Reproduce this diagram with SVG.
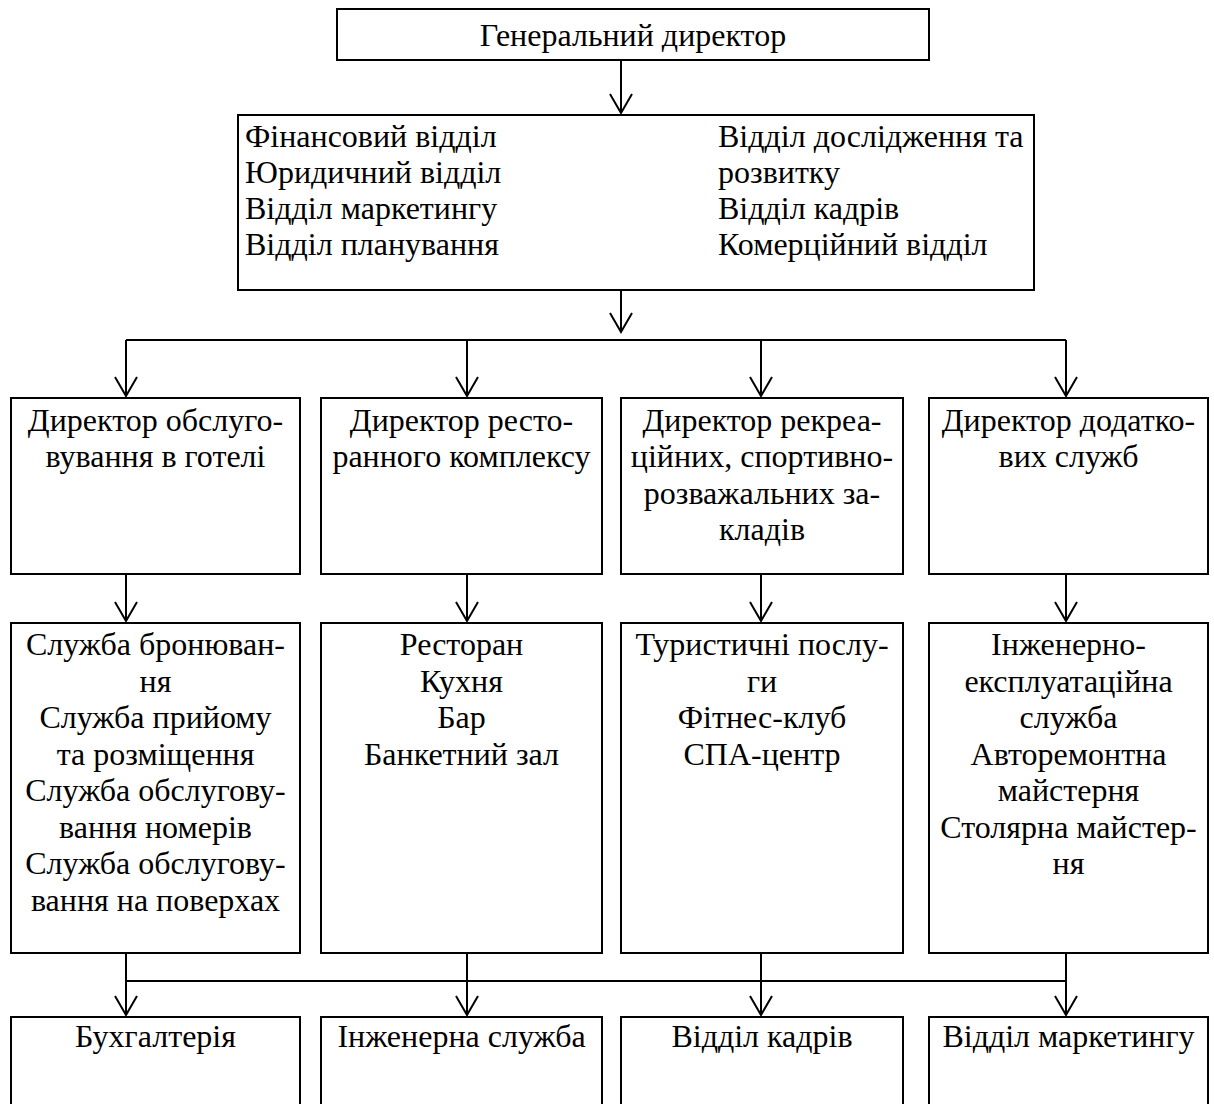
<svg xmlns="http://www.w3.org/2000/svg" width="1214" height="1104" viewBox="0 0 1214 1104">
<style>
.box{fill:#fff;stroke:#000;stroke-width:2}
.t{font-family:"Liberation Serif","Times New Roman",serif;font-size:32px;fill:#000}
.c{text-anchor:middle}
.ln{fill:none;stroke:#000;stroke-width:2}
</style>
<defs>
<marker id="ah" markerUnits="userSpaceOnUse" markerWidth="30" markerHeight="30" refX="0" refY="0" orient="auto" viewBox="-22 -15 30 30" overflow="visible">
<path d="M-19,-11 L0,0 L-19,11" fill="none" stroke="#000" stroke-width="2"/>
</marker>
</defs>
<rect width="1214" height="1104" fill="#fff"/>
<g id="connectors">
<path class="ln" d="M621,60 V113" marker-end="url(#ah)"/>
<path class="ln" d="M621,290 V332" marker-end="url(#ah)"/>
<path class="ln" d="M126,340 H1066"/>
<path class="ln" d="M126,340 V396" marker-end="url(#ah)"/>
<path class="ln" d="M467,340 V396" marker-end="url(#ah)"/>
<path class="ln" d="M761,340 V396" marker-end="url(#ah)"/>
<path class="ln" d="M1066,340 V396" marker-end="url(#ah)"/>
<path class="ln" d="M126,574 V621" marker-end="url(#ah)"/>
<path class="ln" d="M467,574 V621" marker-end="url(#ah)"/>
<path class="ln" d="M761,574 V621" marker-end="url(#ah)"/>
<path class="ln" d="M1066,574 V621" marker-end="url(#ah)"/>
<path class="ln" d="M126,981 H1066"/>
<path class="ln" d="M126,953 V1015" marker-end="url(#ah)"/>
<path class="ln" d="M467,953 V1015" marker-end="url(#ah)"/>
<path class="ln" d="M761,953 V1015" marker-end="url(#ah)"/>
<path class="ln" d="M1066,953 V1015" marker-end="url(#ah)"/>
</g>
<g id="gen">
<rect class="box" x="337" y="9" width="592" height="51"/>
<text class="t c" x="633" y="46">Генеральний директор</text>
</g>
<g id="depts">
<rect class="box" x="238" y="115" width="796" height="175"/>
<text class="t" x="245" y="147">Фінансовий відділ</text>
<text class="t" x="245" y="183">Юридичний відділ</text>
<text class="t" x="245" y="219">Відділ маркетингу</text>
<text class="t" x="245" y="255">Відділ планування</text>
<text class="t" x="718" y="147">Відділ дослідження та</text>
<text class="t" x="718" y="183">розвитку</text>
<text class="t" x="718" y="219">Відділ кадрів</text>
<text class="t" x="718" y="255">Комерційний відділ</text>
</g>
<g id="dir1">
<rect class="box" x="11" y="398" width="289" height="176"/>
<text class="t c" x="155.5" y="431">Директор обслуго-</text>
<text class="t c" x="155.5" y="467">вування в готелі</text>
</g>
<g id="dir2">
<rect class="box" x="321" y="398" width="281" height="176"/>
<text class="t c" x="461.5" y="431">Директор ресто-</text>
<text class="t c" x="461.5" y="467">ранного комплексу</text>
</g>
<g id="dir3">
<rect class="box" x="621" y="398" width="282" height="176"/>
<text class="t c" x="762" y="431">Директор рекреа-</text>
<text class="t c" x="762" y="467">ційних, спортивно-</text>
<text class="t c" x="762" y="504">розважальних за-</text>
<text class="t c" x="762" y="540">кладів</text>
</g>
<g id="dir4">
<rect class="box" x="929" y="398" width="279" height="176"/>
<text class="t c" x="1068.5" y="431">Директор додатко-</text>
<text class="t c" x="1068.5" y="467">вих служб</text>
</g>
<g id="svc1">
<rect class="box" x="11" y="623" width="289" height="330"/>
<text class="t c" x="155.5" y="655">Служба бронюван-</text>
<text class="t c" x="155.5" y="691.5">ня</text>
<text class="t c" x="155.5" y="728">Служба прийому</text>
<text class="t c" x="155.5" y="764.5">та розміщення</text>
<text class="t c" x="155.5" y="801">Служба обслугову-</text>
<text class="t c" x="155.5" y="837.5">вання номерів</text>
<text class="t c" x="155.5" y="874">Служба обслугову-</text>
<text class="t c" x="155.5" y="910.5">вання на поверхах</text>
</g>
<g id="svc2">
<rect class="box" x="321" y="623" width="281" height="330"/>
<text class="t c" x="461.5" y="655">Ресторан</text>
<text class="t c" x="461.5" y="691.5">Кухня</text>
<text class="t c" x="461.5" y="728">Бар</text>
<text class="t c" x="461.5" y="764.5">Банкетний зал</text>
</g>
<g id="svc3">
<rect class="box" x="621" y="623" width="282" height="330"/>
<text class="t c" x="762" y="655">Туристичні послу-</text>
<text class="t c" x="762" y="691.5">ги</text>
<text class="t c" x="762" y="728">Фітнес-клуб</text>
<text class="t c" x="762" y="764.5">СПА-центр</text>
</g>
<g id="svc4">
<rect class="box" x="929" y="623" width="279" height="330"/>
<text class="t c" x="1068.5" y="655">Інженерно-</text>
<text class="t c" x="1068.5" y="691.5">експлуатаційна</text>
<text class="t c" x="1068.5" y="728">служба</text>
<text class="t c" x="1068.5" y="764.5">Авторемонтна</text>
<text class="t c" x="1068.5" y="801">майстерня</text>
<text class="t c" x="1068.5" y="837.5">Столярна майстер-</text>
<text class="t c" x="1068.5" y="874">ня</text>
</g>
<g id="acc">
<rect class="box" x="11" y="1017" width="289" height="100"/>
<text class="t c" x="155.5" y="1047">Бухгалтерія</text>
</g>
<g id="eng">
<rect class="box" x="321" y="1017" width="281" height="100"/>
<text class="t c" x="461.5" y="1047">Інженерна служба</text>
</g>
<g id="hr">
<rect class="box" x="621" y="1017" width="282" height="100"/>
<text class="t c" x="762" y="1047">Відділ кадрів</text>
</g>
<g id="mkt">
<rect class="box" x="929" y="1017" width="279" height="100"/>
<text class="t c" x="1068.5" y="1047">Відділ маркетингу</text>
</g>
</svg>
